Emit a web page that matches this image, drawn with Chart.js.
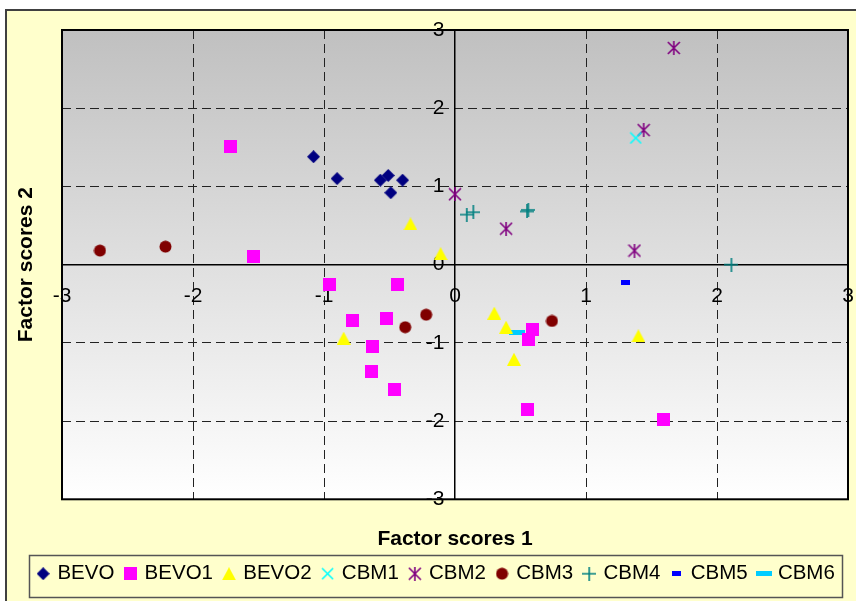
<!DOCTYPE html>
<html>
<head>
<meta charset="utf-8">
<script src="https://cdn.jsdelivr.net/npm/chart.js@4/dist/chart.umd.min.js"></script>
<style>
  html, body { margin: 0; padding: 0; background: #fff; }
  canvas { display: block; }
</style>
</head>
<body>
<canvas id="factorChart" width="856" height="601"></canvas>
<script>
  const seriesNames = ['BEVO', 'BEVO1', 'BEVO2', 'CBM1', 'CBM2', 'CBM3', 'CBM4', 'CBM5', 'CBM6'];
  const axisTicks = [-3, -2, -1, 0, 1, 2, 3];

  const bevoX = [-1.08, -0.90, -0.57, -0.51, -0.49, -0.40];
  const bevoY = [1.38, 1.10, 1.08, 1.14, 0.92, 1.08];
  const bevo1X = [-1.71, -1.54, -0.96, -0.44, -0.78, -0.52, -0.63, -0.64, -0.46, 0.59, 0.56, 0.55, 1.59];
  const bevo1Y = [1.51, 0.10, -0.25, -0.25, -0.72, -0.69, -1.05, -1.36, -1.59, -0.83, -0.96, -1.85, -1.98];
  const bevo2X = [-0.34, -0.11, -0.85, 0.30, 0.39, 0.45, 1.40];
  const bevo2Y = [0.52, 0.14, -0.94, -0.62, -0.80, -1.21, -0.91];
  const cbm1X = [1.38];
  const cbm1Y = [1.62];
  const cbm2X = [1.67, 1.44, 0.00, 0.39, 1.37];
  const cbm2Y = [2.77, 1.72, 0.90, 0.46, 0.18];
  const cbm3X = [-2.71, -2.21, -0.38, -0.22, 0.74];
  const cbm3Y = [0.18, 0.23, -0.80, -0.64, -0.72];
  const cbm4X = [0.09, 0.14, 0.55, 0.56, 2.11];
  const cbm4Y = [0.64, 0.67, 0.68, 0.70, 0.00];
  const cbm5X = [1.30];
  const cbm5Y = [-0.23];
  const cbm6X = [0.47];
  const cbm6Y = [-0.87];

  // excel-like marker images, used for the points and the legend
  function marker(kind, color, w, h) {
    const c = document.createElement('canvas');
    c.width = w;
    c.height = h;
    const g = c.getContext('2d');
    g.fillStyle = color;
    g.strokeStyle = color;
    g.lineWidth = 1.6;
    const cx = w / 2, cy = h / 2;
    g.beginPath();
    if (kind === 'diamond') {
      g.moveTo(cx, 0); g.lineTo(w, cy); g.lineTo(cx, h); g.lineTo(0, cy);
      g.closePath(); g.fill();
    } else if (kind === 'triangle') {
      g.moveTo(cx, 0); g.lineTo(w, h); g.lineTo(0, h);
      g.closePath(); g.fill();
    } else if (kind === 'circle') {
      g.arc(cx, cy, w / 2 - 0.5, 0, Math.PI * 2);
      g.fill();
    } else if (kind === 'x' || kind === 'star') {
      g.moveTo(1, 1); g.lineTo(w - 1, h - 1);
      g.moveTo(w - 1, 1); g.lineTo(1, h - 1);
      if (kind === 'star') { g.moveTo(cx, 0); g.lineTo(cx, h); }
      g.stroke();
    } else if (kind === 'plus') {
      g.moveTo(0, cy); g.lineTo(w, cy);
      g.moveTo(cx, 0); g.lineTo(cx, h);
      g.stroke();
    } else {
      g.fillRect(0, 0, w, h);
    }
    return c;
  }

  const markers = [
    marker('diamond', '#000080', 13, 13),
    marker('square', '#FF00FF', 13, 13),
    marker('triangle', '#FFFF00', 14, 13),
    marker('x', '#00FFFF', 13, 13),
    marker('star', '#800080', 14, 14),
    marker('circle', '#800000', 13, 13),
    marker('plus', '#008080', 14, 14),
    marker('square', '#0000FF', 9, 5),
    marker('square', '#00CCFF', 16, 5)
  ];
  const colors = ['#000080', '#FF00FF', '#FFFF00', '#00FFFF', '#800080', '#800000', '#008080', '#0000FF', '#00CCFF'];
  const xs = [bevoX, bevo1X, bevo2X, cbm1X, cbm2X, cbm3X, cbm4X, cbm5X, cbm6X];
  const ys = [bevoY, bevo1Y, bevo2Y, cbm1Y, cbm2Y, cbm3Y, cbm4Y, cbm5Y, cbm6Y];

  const datasets = seriesNames.map((name, i) => ({
    label: name,
    data: xs[i].map((x, j) => ({ x: x, y: ys[i][j] })),
    xAxisID: 'x',
    yAxisID: 'y',
    pointStyle: markers[i],
    backgroundColor: colors[i],
    borderColor: colors[i],
    pointRadius: 7
  }));

  const font = "'Liberation Sans', Arial, sans-serif";

  const chrome = {
    id: 'chrome',
    beforeDraw(chart) {
      const { ctx, chartArea: a, width, height } = chart;
      ctx.save();
      ctx.fillStyle = '#ffffff';
      ctx.fillRect(0, 0, width, height);
      ctx.fillStyle = '#FFFFCC';
      ctx.fillRect(6, 10, width - 6, height - 10);
      ctx.strokeStyle = '#404040';
      ctx.lineWidth = 2;
      ctx.beginPath();
      ctx.moveTo(6, height);
      ctx.lineTo(6, 10);
      ctx.lineTo(width, 10);
      ctx.stroke();
      const g = ctx.createLinearGradient(0, a.top, 0, a.bottom);
      g.addColorStop(0, '#C0C0C0');
      g.addColorStop(1, '#FFFFFF');
      ctx.fillStyle = g;
      ctx.fillRect(a.left, a.top, a.width, a.height);
      ctx.restore();
    },
    beforeDatasetsDraw(chart) {
      const { ctx, chartArea: a } = chart;
      ctx.save();
      ctx.strokeStyle = '#000';
      ctx.lineWidth = 2;
      ctx.strokeRect(a.left, a.top, a.width, a.height);
      ctx.restore();
    },
    afterDraw(chart) {
      const ctx = chart.ctx;
      ctx.save();
      ctx.strokeStyle = '#555';
      ctx.lineWidth = 1.5;
      ctx.strokeRect(29.5, 555.5, 813, 42);
      ctx.restore();
    }
  };

  const gridColor = (ctx) => (ctx.tick && (ctx.tick.value === 0 || Math.abs(ctx.tick.value) === 3)) ? 'rgba(0,0,0,0)' : '#222';
  const setTicks = (scale) => { scale.ticks = axisTicks.map(v => ({ value: v })); };
  // end labels may hang over the plot edge, as in the original
  const noOverhang = (scale) => {
    scale.paddingLeft = 0; scale.paddingRight = 0;
    scale.paddingTop = 0; scale.paddingBottom = 0;
  };

  new Chart(document.getElementById('factorChart'), {
    type: 'scatter',
    data: { datasets: datasets },
    plugins: [chrome],
    options: {
      responsive: false,
      animation: false,
      layout: { padding: { left: 23, right: 5, top: 30, bottom: 7 } },
      plugins: {
        tooltip: { enabled: false },
        legend: {
          position: 'bottom',
          labels: {
            usePointStyle: true,
            boxWidth: 8,
            boxHeight: 8,
            padding: 12,
            color: '#000',
            font: { family: font, size: 20.5 }
          }
        }
      },
      scales: {
        x: {
          type: 'linear',
          position: { y: 0 },
          min: axisTicks[0],
          max: axisTicks[axisTicks.length - 1],
          afterBuildTicks: setTicks,
          afterFit: noOverhang,
          grid: { color: gridColor, lineWidth: 1, drawTicks: true, tickLength: 19, tickColor: 'rgba(0,0,0,0)' },
          border: { display: true, color: '#000', width: 1.5, dash: [9, 5] },
          ticks: { color: '#000', padding: 0, maxRotation: 0, autoSkip: false, font: { family: font, size: 21 } }
        },
        y: {
          type: 'linear',
          position: { x: 0 },
          min: axisTicks[0],
          max: axisTicks[axisTicks.length - 1],
          afterBuildTicks: setTicks,
          afterFit: noOverhang,
          grid: { color: gridColor, lineWidth: 1, drawTicks: false },
          border: { display: true, color: '#000', width: 1.5, dash: [9, 5] },
          // a trailing en space keeps the labels off the centred axis line
          ticks: { color: '#000', padding: 0, autoSkip: false, font: { family: font, size: 21 }, callback: (v) => v + '\u2002' }
        },
        xt: {
          type: 'linear',
          axis: 'x',
          position: 'bottom',
          min: 0,
          max: 1,
          afterFit: noOverhang,
          grid: { display: false, drawTicks: false },
          border: { display: false },
          ticks: { display: false },
          title: {
            display: true,
            text: 'Factor scores 1',
            color: '#000',
            padding: { top: 27, bottom: 0 },
            font: { family: font, size: 21, weight: 'bold' }
          }
        },
        yt: {
          type: 'linear',
          axis: 'y',
          position: 'left',
          min: 0,
          max: 1,
          afterFit: noOverhang,
          grid: { display: false, drawTicks: false },
          border: { display: false },
          ticks: { display: false },
          title: {
            display: true,
            text: 'Factor scores 2',
            color: '#000',
            padding: { top: -9.6, bottom: 23.4 },
            font: { family: font, size: 21, weight: 'bold' }
          }
        }
      }
    }
  });
</script>
</body>
</html>
